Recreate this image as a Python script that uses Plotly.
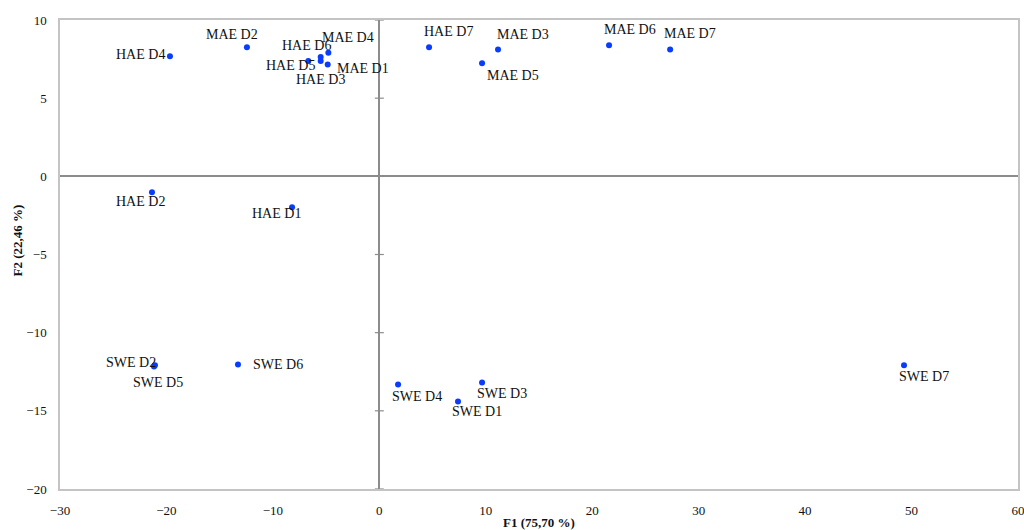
import plotly.graph_objects as go

# PCA scores (F1, F2) for each sample
labels = ["HAE D1", "HAE D2", "HAE D3", "HAE D4", "HAE D5", "HAE D6", "HAE D7",
          "MAE D1", "MAE D2", "MAE D3", "MAE D4", "MAE D5", "MAE D6", "MAE D7",
          "SWE D1", "SWE D2", "SWE D3", "SWE D4", "SWE D5", "SWE D6", "SWE D7"]
f1 = [-8.2, -21.36, -5.51, -19.67, -6.67, -5.51, 4.67,
      -4.85, -12.44, 11.15, -4.79, 9.65, 21.58, 27.32,
      7.39, -21.08, 9.65, 1.76, -21.17, -13.28, 49.29]
f2 = [-1.98, -1.02, 7.38, 7.68, 7.38, 7.63, 8.25,
      7.15, 8.25, 8.12, 7.91, 7.23, 8.38, 8.12,
      -14.4, -12.09, -13.18, -13.31, -12.16, -12.03, -12.09]

# label placement offsets (pixels, x right / y up) so nearby labels do not collide
label_dx = [-16, -11, 0, -29, -18, -14, 19,
            35, -15, 25, 20, 31, 21, 20,
            19, -24, 20, 19, 4, 40, 20]
label_dy = [-6, -9, -19, 2, -5, 12, 16,
            -4, 13, 15, 15, -12, 16, 16,
            -10, 3, -11, -12, -16, 0, -11]

y_ticks = [-20, -15, -10, -5, 0, 5, 10]
x_ticks = [-30, -20, -10, 0, 10, 20, 30, 40, 50, 60]

serif = "Liberation Serif, Times New Roman, serif"

fig = go.Figure()
fig.add_trace(go.Scatter(
    x=f1, y=f2, mode="markers",
    marker=dict(color="#0a3cff", size=6),
    hoverinfo="text", text=labels, showlegend=False,
))

for name, x, y, dx, dy in zip(labels, f1, f2, label_dx, label_dy):
    fig.add_annotation(x=x, y=y, text=name, showarrow=False,
                       xshift=dx, yshift=dy,
                       font=dict(family=serif, size=14, color="#111111"))

# cross-shaped tick marks along the vertical zero axis
for t in y_ticks:
    fig.add_shape(type="line", xref="x", yref="y", xsizemode="pixel",
                  xanchor=0, x0=-4.5, x1=4.5, y0=t, y1=t,
                  line=dict(color="#8c8c8c", width=1.2))

# axis titles
fig.add_annotation(xref="paper", yref="paper", x=0.5, y=0, yshift=-33,
                   xanchor="center", yanchor="middle",
                   text="<b>F1 (75,70 %)</b>", showarrow=False,
                   font=dict(family=serif, size=13, color="#111111"))
fig.add_annotation(xref="paper", yref="paper", x=0, y=0.53, xshift=-43,
                   xanchor="center", yanchor="middle",
                   text="<b>F2 (22,46 %)</b>", showarrow=False, textangle=-90,
                   font=dict(family=serif, size=13, color="#111111"))

fig.update_xaxes(range=[-30, 60], tickvals=x_ticks, showgrid=False,
                 automargin=False, ticklabeloverflow="allow",
                 zeroline=True, zerolinecolor="#8c8c8c", zerolinewidth=1.5,
                 showline=True, linecolor="#c4c4c4", linewidth=1.5, mirror=True,
                 ticks="", ticklabelstandoff=9,
                 tickfont=dict(family=serif, size=13, color="#111111"))
fig.update_yaxes(range=[-20, 10], tickvals=y_ticks, showgrid=False,
                 automargin=False, ticklabeloverflow="allow",
                 zeroline=True, zerolinecolor="#8c8c8c", zerolinewidth=1.5,
                 showline=True, linecolor="#c4c4c4", linewidth=1.5, mirror=True,
                 ticks="", ticklabelstandoff=9,
                 tickfont=dict(family=serif, size=13, color="#111111"))

fig.update_layout(
    width=1024, height=530,
    margin=dict(l=60, r=6, t=20, b=41),
    plot_bgcolor="white", paper_bgcolor="white",
)

fig.write_html("out.html")
